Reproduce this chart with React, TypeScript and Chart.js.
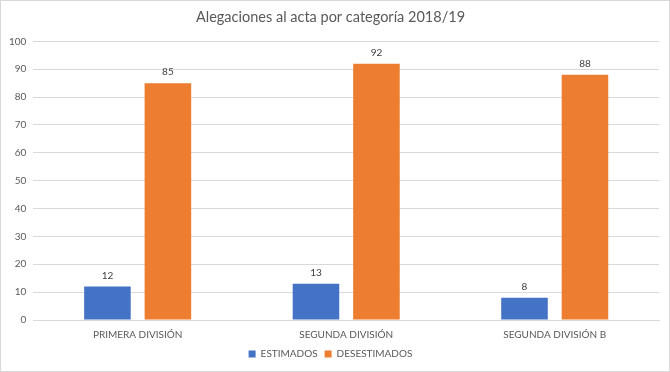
import React, { useEffect, useRef } from "react";
import { Chart, registerables } from "chart.js";

Chart.register(...registerables);

const categories = ["PRIMERA DIVISIÓN", "SEGUNDA DIVISIÓN", "SEGUNDA DIVISIÓN B"];
const estimados = [12, 13, 8];
const desestimados = [85, 92, 88];
const seriesNames = ["ESTIMADOS", "DESESTIMADOS"];
const titleText = "Alegaciones al acta por categoría 2018/19";

const FONT = "Lato, 'Open Sans', sans-serif";
const TEXT = "#595959";

const valueLabels = {
  id: "valueLabels",
  afterDatasetsDraw(chart: any) {
    const ctx = chart.ctx;
    ctx.save();
    ctx.font = `10px ${FONT}`;
    ctx.fillStyle = "#404040";
    ctx.textAlign = "center";
    ctx.textBaseline = "bottom";
    chart.data.datasets.forEach((ds: any, i: number) => {
      const meta = chart.getDatasetMeta(i);
      meta.data.forEach((bar: any, j: number) => {
        ctx.fillText(String(ds.data[j]), bar.x, bar.y - 6);
      });
    });
    ctx.restore();
  },
};

export default function App() {
  const ref = useRef<HTMLCanvasElement>(null);
  useEffect(() => {
    document.body.style.margin = "0";
    const chart = new Chart(ref.current!, {
      type: "bar",
      data: {
        labels: categories,
        datasets: [
          { label: seriesNames[0], data: estimados, backgroundColor: "#4472C4", categoryPercentage: 0.58, barPercentage: 0.77 },
          { label: seriesNames[1], data: desestimados, backgroundColor: "#ED7D31", categoryPercentage: 0.58, barPercentage: 0.77 },
        ],
      },
      options: {
        responsive: false,
        animation: false,
        layout: { padding: { left: 1, right: 10, top: 6, bottom: 2 } },
        plugins: {
          title: {
            display: true,
            text: titleText,
            color: TEXT,
            font: { family: FONT, size: 14.5, weight: "normal" },
            padding: { top: 2, bottom: 15 },
          },
          legend: {
            position: "bottom",
            labels: {
              color: TEXT,
              font: { family: FONT, size: 10 },
              boxWidth: 7,
              boxHeight: 7,
              padding: 7,
            },
          },
          tooltip: { enabled: false },
        },
        scales: {
          x: {
            grid: { display: false },
            border: { color: "#d9d9d9" },
            ticks: { color: TEXT, font: { family: FONT, size: 10 }, padding: 1 },
          },
          y: {
            min: 0,
            max: 100,
            ticks: { stepSize: 10, color: TEXT, font: { family: FONT, size: 10 }, padding: 7 },
            grid: { color: "#d9d9d9", drawTicks: false },
            border: { display: false },
          },
        },
      },
      plugins: [valueLabels],
    });
    return () => chart.destroy();
  }, []);
  return (
    <div style={{ width: 670, height: 372, boxSizing: "border-box", border: "1px solid #d9d9d9", background: "#fff" }}>
      <canvas ref={ref} width={668} height={370} style={{ display: "block" }} />
    </div>
  );
}
